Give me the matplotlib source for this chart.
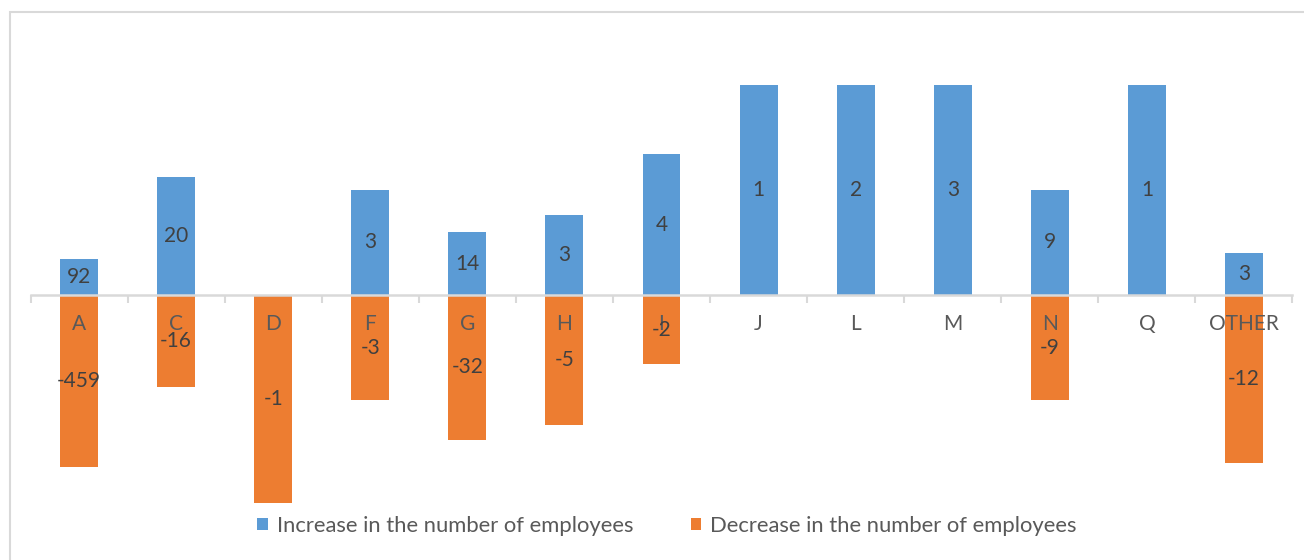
import matplotlib.pyplot as plt
import numpy as np
from matplotlib.patches import Rectangle

# sectors and the change in staff per sector
sectors = ["A", "C", "D", "F", "G", "H", "I", "J", "L", "M", "N", "Q", "OTHER"]
increase_share = [17, 56, 0, 50, 30, 38, 67, 100, 100, 100, 50, 100, 20]
decrease_share = [-82, -44, -99, -50, -69, -62, -33, 0, 0, 0, -50, 0, -80]
increase_count = [92, 20, None, 3, 14, 3, 4, 1, 2, 3, 9, 1, 3]
decrease_count = [-459, -16, -1, -3, -32, -5, -2, None, None, None, -9, None, -12]

blue = "#5b9bd5"
orange = "#ed7d31"
plt.rcParams["font.family"] = ["Lato", "DejaVu Sans"]

fig = plt.figure(figsize=(13.04, 5.6), dpi=100)
ax = fig.add_axes([30.5 / 1304, 55 / 560, 1262 / 1304, 420 / 560])

x = np.arange(len(sectors))
width = 0.39
up = ax.bar(x, increase_share, width, color=blue, label="Increase in the number of employees")
down = ax.bar(x, decrease_share, width, color=orange, label="Decrease in the number of employees")

ax.bar_label(up, labels=["" if c is None else str(c) for c in increase_count],
             label_type="center", color="#404040", fontsize=15)
ax.bar_label(down, labels=["" if c is None else str(c) for c in decrease_count],
             label_type="center", color="#404040", fontsize=15)

ax.set_xlim(-0.5, len(sectors) - 0.5)
ax.set_ylim(-100, 100)
for side in ["top", "right", "left"]:
    ax.spines[side].set_visible(False)
ax.spines["bottom"].set_position(("data", 0))
ax.spines["bottom"].set_color("#d9d9d9")
ax.spines["bottom"].set_linewidth(1.8)
ax.spines["bottom"].set_zorder(2)
ax.set_yticks([])
ax.set_xticks(x)
ax.set_xticklabels(sectors)
ax.tick_params(axis="x", which="major", length=0, pad=14,
               labelsize=15, labelcolor="#595959")
ax.set_xticks(np.arange(-0.5, len(sectors)), minor=True)
ax.tick_params(axis="x", which="minor", length=6, width=1.5, color="#d9d9d9",
               direction="out")

fig.patches.append(Rectangle((10 / 1304, -0.1), 1.2, (560 - 12) / 560 + 0.1,
                             transform=fig.transFigure, fill=False,
                             edgecolor="#d9d9d9", lw=1.5))

fig.legend(loc="center", bbox_to_anchor=(667 / 1304, 1 - 526 / 560), ncol=2,
           frameon=False, fontsize=15.8, handlelength=0.5, handleheight=0.5,
           handletextpad=0.4, columnspacing=2.6, labelcolor="#595959")

fig.savefig("out.png", dpi=100)
